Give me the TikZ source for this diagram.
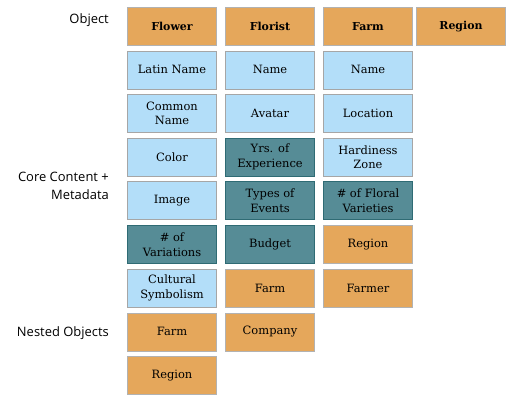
\documentclass[tikz,border=0pt]{standalone}
\usepackage{fontspec}
\setmainfont{DejaVu Serif}
\newfontfamily\labelfont{Open Sans}
\usepackage{xcolor}

\definecolor{objorange}{HTML}{E5A75B}
\definecolor{coreblue}{HTML}{B3DEF9}
\definecolor{metateal}{HTML}{568C96}
\definecolor{tealedge}{HTML}{2F6B74}

\begin{document}
\begin{tikzpicture}[x=1bp, y=-1bp,
    cell/.style={minimum width=89bp, minimum height=38bp, inner sep=1bp,
        align=center, font=\fontsize{11.5}{14.5}\selectfont},
    obj/.style={cell, fill=objorange, draw=gray!60},
    head/.style={obj, font=\fontsize{11}{14.5}\selectfont\bfseries},
    core/.style={cell, fill=coreblue, draw=gray!70},
    meta/.style={cell, fill=metateal, draw=tealedge},
    rowlabel/.style={anchor=east, align=right, inner sep=0pt,
        font=\labelfont\fontsize{13}{17.5}\selectfont}]

    \useasboundingbox (0,0) rectangle (512,401);

    % Row labels on the left
    \node[rowlabel] (lobject) at (109,20.5) {Object};
    \node[rowlabel] (lcore) at (109,186) {Core Content +\\Metadata};
    \node[rowlabel] (lnested) at (109,333) {Nested Objects};

    % Objects (top row)
    \node[head] (flower) at (172,26.2) {Flower};
    \node[head] (florist) at (270,26.2) {Florist};
    \node[head] (farm) at (368,26.2) {Farm};
    \node[head] (region) at (461,26.2) {Region};

    % Flower column
    \node[core] (flatin) at (172,69.7) {Latin Name};
    \node[core] (fcommon) at (172,113.3) {Common\\Name};
    \node[core] (fcolor) at (172,157) {Color};
    \node[core] (fimage) at (172,200.5) {Image};
    \node[meta] (fvariations) at (172,244.5) {\# of\\Variations};
    \node[core] (fsymbol) at (172,288) {Cultural\\Symbolism};
    \node[obj] (ffarm) at (172,331.7) {Farm};
    \node[obj] (fregion) at (172,375.3) {Region};

    % Florist column
    \node[core] (sname) at (270,69.7) {Name};
    \node[core] (savatar) at (270,113.3) {Avatar};
    \node[meta] (syears) at (270,157) {Yrs. of\\Experience};
    \node[meta] (sevents) at (270,200.5) {Types of\\Events};
    \node[meta] (sbudget) at (270,244.5) {Budget};
    \node[obj] (sfarm) at (270,288) {Farm};
    \node[obj] (scompany) at (270,331.7) {Company};

    % Farm column
    \node[core] (mname) at (368,69.7) {Name};
    \node[core] (mlocation) at (368,113.3) {Location};
    \node[core] (mzone) at (368,157) {Hardiness\\Zone};
    \node[meta] (mvarieties) at (368,200.5) {\# of Floral\\Varieties};
    \node[obj] (mregion) at (368,244.5) {Region};
    \node[obj] (mfarmer) at (368,288) {Farmer};

\end{tikzpicture}
\end{document}
